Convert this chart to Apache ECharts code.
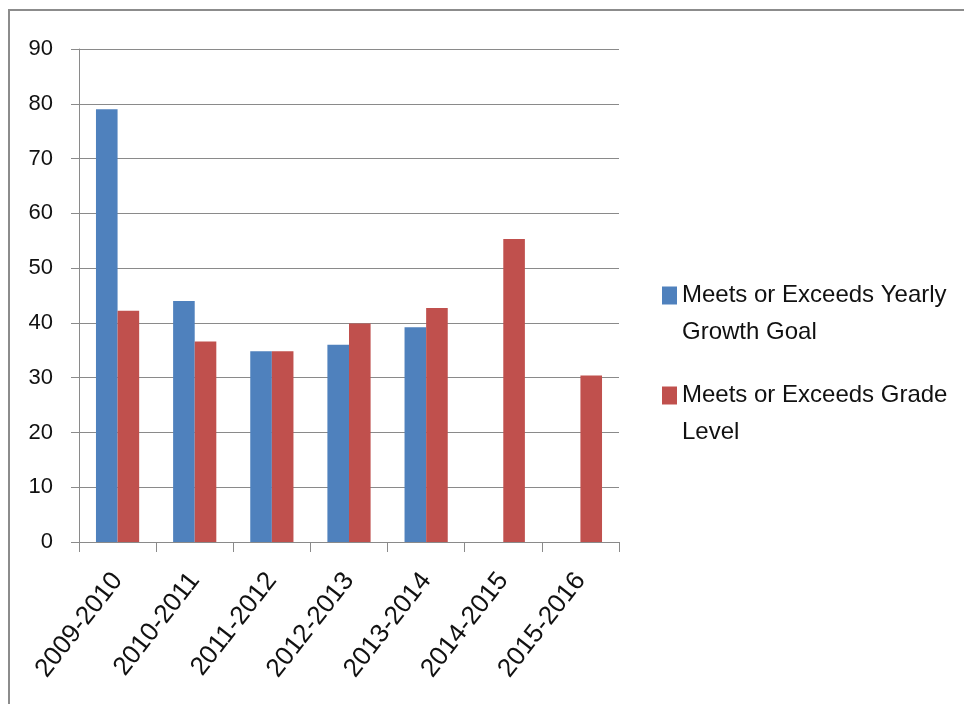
<!DOCTYPE html>
<html>
<head>
<meta charset="utf-8">
<title>Student Growth and Grade Level</title>
<script src="https://cdn.jsdelivr.net/npm/echarts@6/dist/echarts.min.js"></script>
<style>
  html, body { margin: 0; padding: 0; background: #ffffff; }
  #chart { width: 964px; height: 704px; }
</style>
</head>
<body>
<div id="chart"></div>
<script>
// School years on the category axis
const years = ['2009-2010', '2010-2011', '2011-2012', '2012-2013', '2013-2014', '2014-2015', '2015-2016'];

// Percent of students meeting or exceeding each measure
const growthGoal = [79, 44, 34.8, 36, 39.2, null, null];
const gradeLevel = [42.2, 36.6, 34.8, 39.9, 42.7, 55.3, 30.4];

// Value axis ticks
const yTicks = { min: 0, max: 90, interval: 10 };

const seriesNames = ['Meets or Exceeds Yearly Growth Goal', 'Meets or Exceeds Grade Level'];
// A leading blank line keeps the key level with the first line of a wrapped name
const legendLines = {
  'Meets or Exceeds Yearly Growth Goal': '\nMeets or Exceeds Yearly\nGrowth Goal',
  'Meets or Exceeds Grade Level': '\nMeets or Exceeds Grade\nLevel'
};

const FONT = '"Liberation Sans", Arial, sans-serif';
const GRID_COLOR = '#8a8a8a';
const TEXT_COLOR = '#111111';

const chart = echarts.init(document.getElementById('chart'), null, { renderer: 'canvas' });

const legendBase = {
  orient: 'vertical',
  left: 662,
  padding: 0,
  itemWidth: 15,
  itemHeight: 18,
  itemGap: 0,
  icon: 'rect',
  selectedMode: false,
  formatter: name => legendLines[name],
  textStyle: {
    fontFamily: FONT,
    fontSize: 24,
    lineHeight: 37,
    color: TEXT_COLOR
  }
};

chart.setOption({
  backgroundColor: '#ffffff',
  animation: false,
  textStyle: { fontFamily: FONT },
  graphic: [{
    type: 'rect',
    shape: { x: 9, y: 10, width: 2000, height: 2000 },
    style: { fill: 'none', stroke: '#8c8c8c', lineWidth: 2 },
    silent: true
  }],
  legend: [
    Object.assign({}, legendBase, { data: [seriesNames[0]], top: 240 }),
    Object.assign({}, legendBase, { data: [seriesNames[1]], top: 340 })
  ],
  grid: { left: 79, right: 345, top: 49, bottom: 162, containLabel: false },
  xAxis: {
    type: 'category',
    data: years,
    axisLine: { lineStyle: { color: GRID_COLOR, width: 1 } },
    axisTick: { show: true, length: 10, lineStyle: { color: GRID_COLOR } },
    axisLabel: {
      interval: 0,
      rotate: 52,
      margin: 34,
      fontSize: 26,
      color: TEXT_COLOR,
      fontFamily: FONT
    }
  },
  yAxis: {
    type: 'value',
    min: yTicks.min,
    max: yTicks.max,
    interval: yTicks.interval,
    axisLine: { show: true, lineStyle: { color: GRID_COLOR, width: 1 } },
    axisTick: { show: true, length: 8, lineStyle: { color: GRID_COLOR } },
    splitLine: { show: true, lineStyle: { color: GRID_COLOR, width: 1 } },
    axisLabel: {
      margin: 26,
      fontSize: 22,
      color: TEXT_COLOR,
      fontFamily: FONT
    }
  },
  series: [
    {
      name: seriesNames[0],
      type: 'bar',
      data: growthGoal,
      barGap: '0%',
      barCategoryGap: '44%',
      itemStyle: { color: '#4f81bd' }
    },
    {
      name: seriesNames[1],
      type: 'bar',
      data: gradeLevel,
      barGap: '0%',
      barCategoryGap: '44%',
      itemStyle: { color: '#c0504d' }
    }
  ]
});
</script>
</body>
</html>
